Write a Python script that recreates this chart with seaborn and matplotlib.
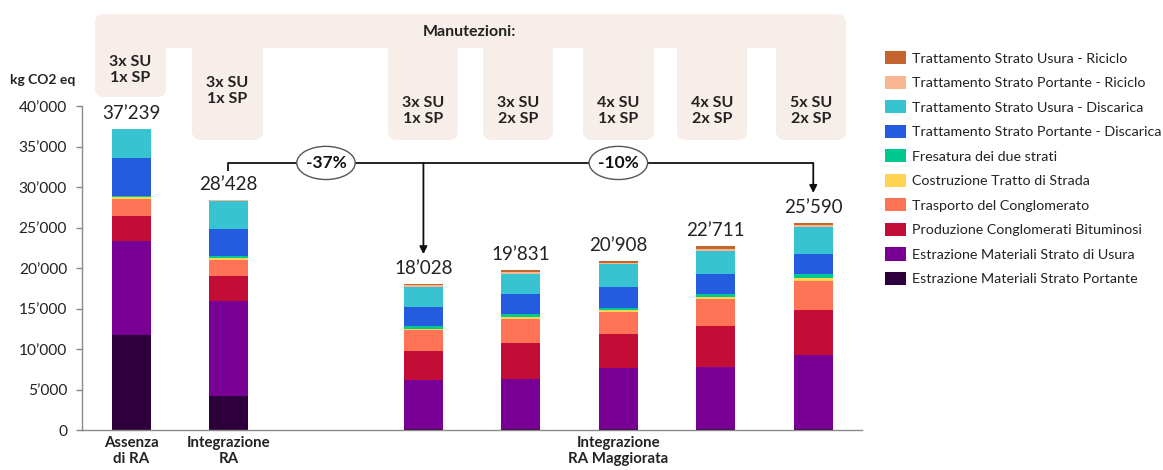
import numpy as np
import pandas as pd
import seaborn as sns
import matplotlib
matplotlib.use("Agg")
import matplotlib.pyplot as plt
import matplotlib.transforms as mtransforms
from matplotlib.patches import FancyBboxPatch, Ellipse, Patch
from matplotlib.ticker import FuncFormatter

# ---- data (kg CO2 eq), one list per life-cycle component, bars left to right ----
scenarios = ["Assenza di RA", "Integrazione RA", "3x SU 1x SP", "3x SU 2x SP",
             "4x SU 1x SP", "4x SU 2x SP", "5x SU 2x SP"]
positions = [0, 1, 3, 4, 5, 6, 7]

estrazione_portante = [11750, 4240, 120, 120, 120, 120, 120]
estrazione_usura = [11650, 11660, 6060, 6180, 7540, 7670, 9150]
produzione = [3100, 3090, 3630, 4450, 4210, 5020, 5560]
trasporto = [2050, 2020, 2530, 3010, 2730, 3390, 3570]
costruzione = [200, 200, 180, 250, 180, 250, 330]
fresatura = [210, 250, 370, 330, 320, 350, 520]
portante_discarica = [4700, 3340, 2300, 2510, 2570, 2440, 2460]
usura_discarica = [3579, 3500, 2520, 2470, 2790, 2940, 3320]
portante_riciclo = [0, 80, 180, 260, 220, 240, 270]
usura_riciclo = [0, 48, 138, 251, 228, 291, 290]

# legend order (top of the stack first)
components = [
    "Trattamento Strato Usura - Riciclo",
    "Trattamento Strato Portante - Riciclo",
    "Trattamento Strato Usura - Discarica",
    "Trattamento Strato Portante - Discarica",
    "Fresatura dei due strati",
    "Costruzione Tratto di Strada",
    "Trasporto del Conglomerato",
    "Produzione Conglomerati Bituminosi",
    "Estrazione Materiali Strato di Usura",
    "Estrazione Materiali Strato Portante",
]
series = [usura_riciclo, portante_riciclo, usura_discarica, portante_discarica,
          fresatura, costruzione, trasporto, produzione, estrazione_usura,
          estrazione_portante]
colors = ["#c2652f", "#f8b692", "#37c3cf", "#245ce0", "#00c98f",
          "#ffd452", "#ff7457", "#c30d37", "#780094", "#2e003b"]

maintenance_tabs = ["3x SU\n1x SP", "3x SU\n1x SP", "3x SU\n1x SP", "3x SU\n2x SP",
                    "4x SU\n1x SP", "4x SU\n2x SP", "5x SU\n2x SP"]
group_labels = ["Assenza\ndi RA", "Integrazione\nRA", "Integrazione\nRA Maggiorata"]
group_positions = [0, 1, 5]

rows = []
for comp, vals in zip(components, series):
    for p, v in zip(positions, vals):
        rows.append({"pos": p, "component": comp, "value": v})
df = pd.DataFrame(rows)
totals = df.groupby("pos")["value"].sum().reindex(positions).to_numpy()

# ---- figure ----
W, H, DPI = 1163, 470, 100
sns.set_theme(style="white")
plt.rcParams["font.family"] = ["Lato", "DejaVu Sans"]
fig = plt.figure(figsize=(W / DPI, H / DPI), dpi=DPI)
ax = fig.add_axes([82.3 / W, 1 - 430 / H, (862 - 82.3) / W, (430 - 106.3) / H])

sns.histplot(data=df, x="pos", weights="value", hue="component",
             hue_order=components, palette=colors, multiple="stack",
             discrete=True, shrink=0.4, linewidth=0, alpha=1,
             legend=False, ax=ax)

ax.set_xlim(-0.5, 7.5)
ax.set_ylim(0, 40000)
ax.set_xlabel("")
ax.set_ylabel("")
ax.set_yticks(np.arange(0, 40001, 5000))
ax.yaxis.set_major_formatter(FuncFormatter(lambda v, _: f"{int(v):,}".replace(",", "\u2019")))
ax.tick_params(axis="y", length=4, width=1, color="#888888", pad=7,
               labelsize=11.2, labelcolor="#222222", left=True)
ax.set_xticks(group_positions)
ax.set_xticklabels(group_labels, fontweight="bold", fontsize=10.8,
                   color="#222222", linespacing=1.25)
ax.tick_params(axis="x", length=0, pad=4)
for side in ["top", "right"]:
    ax.spines[side].set_visible(False)
for side in ["left", "bottom"]:
    ax.spines[side].set_color("#8a8a8a")
    ax.spines[side].set_linewidth(1)

# totals above bars
for p, t in zip(positions, totals):
    ax.annotate(f"{int(t):,}".replace(",", "\u2019"), (p, t), xytext=(0, 5),
                textcoords="offset points", ha="center", va="bottom",
                fontsize=13.5, color="#222222")

# unit label
fig.text(43 / W, 1 - 80 / H, "kg CO2 eq", ha="center", va="center",
         fontsize=10, fontweight="bold", color="#222222")

# ---- maintenance banner (pixel coordinates, origin top-left) ----
px = mtransforms.Affine2D().scale(1, -1).translate(0, H)
banner_color = "#f8eee9"
tab_edges = [(95, 166), (192, 263), (388, 458), (483, 553), (583, 654),
             (677, 747), (776, 846)]
tab_bottoms = [97, 140, 140, 140, 140, 140, 140]
tab_text_y = [70, 91, 111, 111, 111, 111, 111]
fig.add_artist(FancyBboxPatch((95, 14), 846 - 95, 34,
                              boxstyle="round,pad=0,rounding_size=9",
                              transform=px, facecolor=banner_color,
                              edgecolor="none"))
for (x0, x1), yb, yt, lab in zip(tab_edges, tab_bottoms, tab_text_y,
                                 maintenance_tabs):
    fig.add_artist(FancyBboxPatch((x0, 30), x1 - x0, yb - 30,
                                  boxstyle="round,pad=0,rounding_size=9",
                                  transform=px, facecolor=banner_color,
                                  edgecolor="none"))
    fig.text((x0 + x1) / 2 / W, 1 - yt / H, lab, ha="center",
             va="center", fontsize=11.5, fontweight="bold", color="#222222",
             linespacing=1.2)
fig.text(469 / W, 1 - 32 / H, "Manutezioni:", ha="center", va="center",
         fontsize=11.5, fontweight="bold", color="#222222")

# ---- percentage changes vs "Integrazione RA" ----
base = totals[1]
low = totals[2]
high = totals[-1]
y_br = 33000
ax.plot([positions[1], positions[1], positions[-1]], [32000, y_br, y_br],
        color="#111111", lw=1.3, clip_on=False, solid_capstyle="butt")
for p, t in [(positions[2], low), (positions[-1], high)]:
    ax.annotate("", xy=(p, t + 3700), xytext=(p, y_br),
                arrowprops=dict(arrowstyle="-|>", color="#111111", lw=1.3,
                                shrinkA=0, shrinkB=0, mutation_scale=11))
for xc, t in [(2, low), (5, high)]:
    ax.add_patch(Ellipse((xc, y_br), 0.6, 4100, facecolor="white",
                         edgecolor="#555555", lw=1, zorder=5, clip_on=False))
    pct = round((t / base - 1) * 100)
    ax.text(xc, y_br, f"{pct}%", ha="center", va="center", fontsize=12.5,
            fontweight="bold", color="#111111", zorder=6)

# ---- legend ----
handles = [Patch(facecolor=c, edgecolor="none") for c in colors]
fig.legend(handles, components, loc="upper left",
           bbox_to_anchor=(885 / W, 1 - 51 / H), frameon=False,
           fontsize=10.3, handlelength=1.45, handleheight=1.05,
           handletextpad=0.42, labelspacing=0.77, borderpad=0,
           borderaxespad=0, labelcolor="#222222")

fig.savefig("out.png", dpi=DPI, facecolor="white")
